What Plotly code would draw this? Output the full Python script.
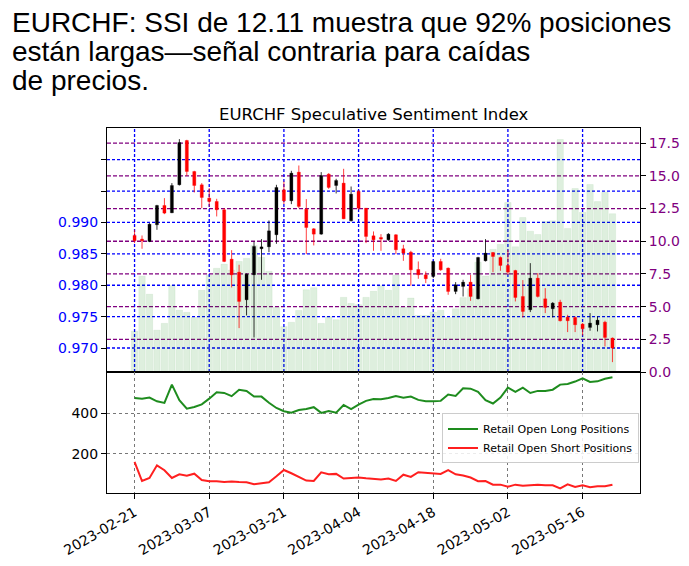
import plotly.graph_objects as go

# ---------------- data ----------------
tick_labels = ['2023-02-21', '2023-03-07', '2023-03-21', '2023-04-04',
               '2023-04-18', '2023-05-02', '2023-05-16']
tick_step = 10

open_ = [0.98793, 0.98735, 0.98697, 0.98963, 0.99271, 0.99154, 0.99600, 1.00306, 0.99812, 0.99600,
         0.99388, 0.99335, 0.99202, 0.98416, 0.98209, 0.97768, 0.98166, 0.98581, 0.98612, 0.98804,
         0.99520, 0.99345, 0.99802, 0.99212, 0.98899, 0.98814, 0.99770, 0.99589, 0.99627, 0.99027,
         0.99494, 0.99228, 0.98788, 0.98761, 0.98724, 0.98804, 0.98581, 0.98527, 0.98251, 0.98166,
         0.98140, 0.98379, 0.98273, 0.97901, 0.97981, 0.98050, 0.97784, 0.98389, 0.98522, 0.98443,
         0.98315, 0.98235, 0.97821, 0.97609, 0.98113, 0.97784, 0.97625, 0.97731, 0.97492, 0.97487,
         0.97381, 0.97328, 0.97370, 0.97412, 0.97158]
high = [0.98883, 0.98793, 0.98989, 0.99281, 0.99388, 0.99627, 1.00328, 1.00317, 0.99823, 0.99627,
        0.99547, 0.99377, 0.99228, 0.98559, 0.98326, 0.98188, 0.98697, 0.98735, 0.99032, 0.99600,
        0.99653, 0.99823, 0.99908, 0.99372, 0.98910, 0.99802, 0.99786, 0.99696, 0.99855, 0.99573,
        0.99520, 0.99228, 0.98857, 0.98814, 0.98830, 0.98814, 0.98644, 0.98549, 0.98379, 0.98220,
        0.98389, 0.98421, 0.98283, 0.98050, 0.98087, 0.98166, 0.98453, 0.98735, 0.98527, 0.98458,
        0.98565, 0.98246, 0.98082, 0.98352, 0.98193, 0.97954, 0.97731, 0.97768, 0.97529, 0.97503,
        0.97397, 0.97556, 0.97503, 0.97434, 0.97168]
low = [0.98671, 0.98581, 0.98687, 0.98883, 0.99133, 0.99149, 0.99589, 0.99743, 0.99478, 0.99228,
       0.99255, 0.99096, 0.98368, 0.97965, 0.97317, 0.97519, 0.97168, 0.98087, 0.98527, 0.98660,
       0.99292, 0.99292, 0.99228, 0.98496, 0.98634, 0.98804, 0.99536, 0.99462, 0.99053, 0.99016,
       0.99202, 0.98671, 0.98549, 0.98549, 0.98708, 0.98496, 0.98389, 0.97993, 0.98103, 0.98034,
       0.98113, 0.98230, 0.97848, 0.97858, 0.97821, 0.97752, 0.97774, 0.98379, 0.98209, 0.98230,
       0.98166, 0.97742, 0.97487, 0.97572, 0.97805, 0.97556, 0.97487, 0.97423, 0.97254, 0.97254,
       0.97200, 0.97275, 0.97264, 0.97025, 0.96775]
close = [0.98708, 0.98708, 0.98973, 0.99271, 0.99149, 0.99589, 1.00274, 0.99812, 0.99589, 0.99398,
         0.99335, 0.99202, 0.98379, 0.98166, 0.97742, 0.98177, 0.98618, 0.98612, 0.98867, 0.99558,
         0.99345, 0.99786, 0.99255, 0.98920, 0.98814, 0.99748, 0.99558, 0.99669, 0.99058, 0.99451,
         0.99228, 0.98777, 0.98724, 0.98735, 0.98814, 0.98565, 0.98512, 0.98246, 0.98166, 0.98103,
         0.98379, 0.98246, 0.97901, 0.98007, 0.98050, 0.97821, 0.98443, 0.98512, 0.98458, 0.98315,
         0.98209, 0.97805, 0.97582, 0.98113, 0.97821, 0.97646, 0.97715, 0.97434, 0.97434, 0.97370,
         0.97306, 0.97397, 0.97444, 0.97168, 0.96999]

ssi = [3.12, 7.33, 5.95, 3.20, 3.72, 6.63, 4.73, 4.56, 4.17, 6.25,
       7.40, 7.93, 8.25, 7.80, 8.46, 8.69, 9.67, 8.77, 7.70, 4.94,
       3.47, 3.80, 4.71, 6.29, 6.45, 3.72, 4.23, 4.00, 5.71, 5.25,
       5.15, 5.71, 6.18, 6.60, 6.25, 7.40, 4.95, 5.66, 4.33, 4.33,
       4.59, 4.72, 4.16, 4.84, 5.69, 6.37, 8.40, 7.34, 9.38, 9.76,
       12.96, 9.58, 11.81, 10.77, 10.51, 11.50, 11.56, 17.78, 10.97, 14.03,
       12.22, 14.34, 13.03, 13.74, 12.11]

long_pos = [475, 472, 477, 459, 451, 541, 464, 423, 431, 444,
            472, 503, 500, 484, 516, 510, 482, 482, 452, 426,
            410, 403, 416, 421, 430, 402, 411, 403, 441, 421,
            443, 461, 470, 469, 475, 485, 477, 482, 466, 459,
            459, 461, 492, 485, 523, 521, 505, 464, 448, 477,
            526, 505, 526, 500, 510, 510, 516, 541, 544, 556,
            572, 554, 557, 570, 577]
short_pos = [161, 67, 82, 144, 120, 82, 100, 93, 103, 72,
             66, 66, 62, 64, 62, 61, 51, 56, 61, 90,
             121, 105, 87, 69, 67, 110, 100, 102, 79, 80,
             84, 80, 77, 74, 79, 67, 98, 87, 110, 108,
             105, 102, 120, 100, 94, 84, 66, 67, 49, 49,
             39, 49, 44, 46, 48, 46, 46, 31, 51, 38,
             46, 36, 41, 41, 49]

price_ticks = [0.970, 0.975, 0.980, 0.985, 0.990, 0.995, 1.000]
price_labels = ['0.970', '0.975', '0.980', '0.985', '0.990', '', '']
ssi_ticks = [0, 2.5, 5, 7.5, 10, 12.5, 15, 17.5]
pos_ticks = [200, 400]

# ---------------- figure ----------------
n = len(open_)
idx = list(range(n))
tickvals = [k * tick_step for k in range(len(tick_labels))]

BLUE = '#0000ff'
PURPLE = '#800080'
FONT = 'DejaVu Sans'

fig = go.Figure()

# SSI bars (right axis, behind)
fig.add_trace(go.Bar(x=idx, y=ssi, xaxis='x', yaxis='y', width=0.86,
                     marker=dict(color='rgba(0,128,0,0.13)',
                                 line=dict(color='rgba(0,128,0,0.10)', width=0.6)),
                     showlegend=False, hoverinfo='skip'))

# wicks
for up in (True, False):
    xs, ys = [], []
    for i in idx:
        if (close[i] >= open_[i]) == up:
            xs += [i, i, None]
            ys += [low[i], high[i], None]
    fig.add_trace(go.Scatter(x=xs, y=ys, mode='lines', xaxis='x', yaxis='y2',
                             line=dict(color='rgba(0,0,0,0.8)' if up else 'rgba(255,0,0,0.75)', width=1),
                             showlegend=False, hoverinfo='skip'))

# bodies
base = [min(o, c) for o, c in zip(open_, close)]
height = [max(abs(c - o), 0.00004) for o, c in zip(open_, close)]
body_col = ['#000000' if c >= o else '#ff0000' for o, c in zip(open_, close)]
edge_col = ['rgba(0,0,0,0.25)' if c >= o else 'rgba(255,0,0,0.3)' for o, c in zip(open_, close)]
fig.add_trace(go.Bar(x=idx, y=height, base=base, xaxis='x', yaxis='y2', width=0.42,
                     marker=dict(color=body_col, line=dict(color=edge_col, width=1)),
                     showlegend=False, hoverinfo='skip'))

# positions
fig.add_trace(go.Scatter(x=idx, y=long_pos, mode='lines', xaxis='x2', yaxis='y3',
                         name='Retail Open Long Positions',
                         line=dict(color='#1e8c1e', width=2)))
fig.add_trace(go.Scatter(x=idx, y=short_pos, mode='lines', xaxis='x2', yaxis='y3',
                         name='Retail Open Short Positions',
                         line=dict(color='#ff1f1f', width=2)))

# top-panel grid lines (drawn as shapes so their colours are explicit)
for v in ssi_ticks[1:]:
    fig.add_shape(type='line', xref='x domain', x0=0, x1=1, yref='y', y0=v, y1=v,
                  line=dict(color=PURPLE, width=1.3, dash='4px,2px'), layer='below')
for v in price_ticks:
    fig.add_shape(type='line', xref='x domain', x0=0, x1=1, yref='y2', y0=v, y1=v,
                  line=dict(color=BLUE, width=1.3, dash='3px,2px'), layer='below')
for v in tickvals:
    fig.add_shape(type='line', xref='x', x0=v, x1=v, yref='y domain', y0=0, y1=1,
                  line=dict(color=BLUE, width=1.3, dash='3px,2px'), layer='below')

xr = [-3.69, 67.69]
split = 121 / 365

fig.update_layout(
    width=689, height=566,
    margin=dict(l=107, r=49, t=128, b=73, autoexpand=False),
    paper_bgcolor='white', plot_bgcolor='white',
    barmode='overlay',
    font=dict(family=FONT, size=14, color='black'),
    xaxis=dict(domain=[0, 1], anchor='y', range=xr, tickvals=tickvals, showticklabels=False,
               ticks='', showgrid=False,
               showline=True, mirror=True, linecolor='black', linewidth=1, zeroline=False,
               automargin=False),
    yaxis=dict(domain=[split, 1], anchor='x', side='right', range=[0, 18.66],
               tickvals=ssi_ticks, ticktext=['%.1f' % v for v in ssi_ticks],
               tickfont=dict(color=PURPLE, size=14, family=FONT),
               ticks='outside', ticklen=5, tickcolor='black', showgrid=False,
               showline=True, mirror=True, linecolor='black', linewidth=1, zeroline=False,
               automargin=False),
    yaxis2=dict(overlaying='y', anchor='x', side='left', range=[0.96618, 1.00505],
                tickvals=price_ticks, ticktext=price_labels,
                tickfont=dict(color=BLUE, size=14, family=FONT),
                ticks='outside', ticklen=5, tickcolor='black', showgrid=False,
                showline=False, zeroline=False, automargin=False),
    xaxis2=dict(domain=[0, 1], anchor='y3', range=xr, tickvals=tickvals, ticktext=tick_labels,
                tickangle=-30, ticks='outside', ticklen=5, tickcolor='black',
                tickfont=dict(size=14, family=FONT),
                showgrid=True, gridcolor='#777777', gridwidth=1, griddash='3px,3px',
                showline=True, mirror=True, linecolor='black', linewidth=1, zeroline=False,
                automargin=False),
    yaxis3=dict(domain=[0, split], anchor='x2', range=[8, 603], tickvals=pos_ticks,
                ticks='outside', ticklen=5, tickcolor='black',
                tickfont=dict(size=14, family=FONT),
                showgrid=True, gridcolor='#777777', gridwidth=1, griddash='3px,3px',
                showline=True, mirror=True, linecolor='black', linewidth=1, zeroline=False,
                automargin=False),
    legend=dict(x=0.6285, y=0.218, xanchor='left', yanchor='top',
                bgcolor='rgba(255,255,255,0.85)', bordercolor='#cccccc', borderwidth=1,
                font=dict(size=11, family=FONT), tracegroupgap=0),
    showlegend=True,
)

title_lines = ['EURCHF: SSI de 12.11 muestra que 92% posiciones',
               'están largas—señal contraria para caídas',
               'de precios.']
line_mid_px = [23.0, 51.5, 80.0]
for txt, ypx in zip(title_lines, line_mid_px):
    fig.add_annotation(text=txt, xref='paper', yref='paper',
                       x=(10 - 107) / 533, y=(493 - ypx) / 365,
                       xanchor='left', yanchor='middle', showarrow=False,
                       font=dict(family='Liberation Sans', size=28, color='black'))

fig.add_annotation(text='EURCHF Speculative Sentiment Index', xref='paper', yref='paper',
                   x=0.5, y=(493 - 114.5) / 365, xanchor='center', yanchor='middle',
                   showarrow=False, font=dict(family=FONT, size=16.5, color='black'))

fig.write_html('out.html', config={'displayModeBar': False},
               post_script="document.body.style.margin='0';")
